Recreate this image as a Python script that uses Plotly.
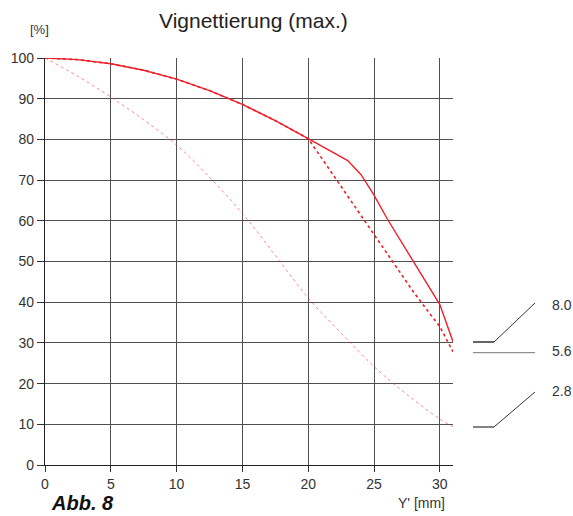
import plotly.graph_objects as go

# ---- data ----
x_80 = [0, 2.5, 5, 7.5, 10, 12.5, 15, 17.5, 20, 21.5, 23, 24, 25, 26, 27, 28, 29, 30, 31]
y_80 = [100, 99.6, 98.6, 97.0, 94.8, 92.0, 88.6, 84.6, 80.2, 77.5, 74.8, 71.4, 66.3, 60.5, 55.2, 50.0, 44.7, 39.4, 30.3]

x_56 = [0, 2.5, 5, 7.5, 10, 12.5, 15, 17.5, 20, 21, 22, 23, 24, 25, 26, 27, 28, 29, 30, 31]
y_56 = [100, 99.6, 98.6, 97.0, 94.8, 92.0, 88.6, 84.6, 80.2, 75.5, 70.8, 66.1, 61.2, 56.5, 51.7, 47.1, 42.5, 38.2, 34.0, 27.8]

x_28 = [0, 2.5, 5, 7.5, 10, 12.5, 15, 17.5, 20, 22.5, 25, 27.5, 30, 31]
y_28 = [100, 95.5, 90.4, 84.8, 78.6, 70.7, 61.8, 51.5, 41.0, 32.4, 24.2, 17.3, 11.3, 9.4]

x_ticks = [0, 5, 10, 15, 20, 25, 30]
y_ticks = [0, 10, 20, 30, 40, 50, 60, 70, 80, 90, 100]
legend_labels = ["8.0", "5.6", "2.8"]

W, H = 573, 516
L, R, T, B = 45, 453, 58, 465

def px(xp):
    return (xp - L) / (R - L)

def py(yp):
    return (B - yp) / (B - T)

FONT = "Liberation Sans, Arial, sans-serif"

fig = go.Figure()
fig.add_trace(go.Scatter(x=x_28, y=y_28, mode="lines", line_shape="spline",
                         line=dict(color="rgba(255,60,60,0.6)", width=1, dash="dot"),
                         hoverinfo="skip", showlegend=False))
fig.add_trace(go.Scatter(x=x_56, y=y_56, mode="lines",
                         line=dict(color="#f0202a", width=1.6, dash="dot"),
                         hoverinfo="skip", showlegend=False))
fig.add_trace(go.Scatter(x=x_80, y=y_80, mode="lines",
                         line=dict(color="#f0202a", width=1.4),
                         hoverinfo="skip", showlegend=False))

shapes = []
lc = "#333333"
# 8.0 legend glyph
shapes.append(dict(type="line", xref="paper", yref="paper", x0=px(473), y0=py(342), x1=px(494), y1=py(342),
                   line=dict(color="#666666", width=2)))
shapes.append(dict(type="line", xref="paper", yref="paper", x0=px(494), y0=py(342), x1=px(535), y1=py(303),
                   line=dict(color=lc, width=1)))
# 5.6
shapes.append(dict(type="line", xref="paper", yref="paper", x0=px(473), y0=py(352.7), x1=px(535), y1=py(352.7),
                   line=dict(color="#777777", width=1)))
# 2.8
shapes.append(dict(type="line", xref="paper", yref="paper", x0=px(473), y0=py(427), x1=px(494), y1=py(427),
                   line=dict(color=lc, width=1.2)))
shapes.append(dict(type="line", xref="paper", yref="paper", x0=px(494), y0=py(427), x1=px(535), y1=py(392),
                   line=dict(color=lc, width=1)))

annotations = []
for lab, yy in zip(legend_labels, [305, 350.5, 391]):
    annotations.append(dict(text=lab, xref="paper", yref="paper", x=px(550), y=py(yy),
                            xanchor="left", yanchor="middle", showarrow=False,
                            font=dict(family=FONT, size=14, color="#333333")))
annotations.append(dict(text="Vignettierung (max.)", xref="paper", yref="paper", x=px(253), y=py(20),
                        xanchor="center", yanchor="middle", showarrow=False,
                        font=dict(family=FONT, size=21, color="#222222")))
annotations.append(dict(text="[%]", xref="paper", yref="paper", x=px(39), y=py(29),
                        xanchor="center", yanchor="middle", showarrow=False,
                        font=dict(family=FONT, size=13, color="#333333")))
annotations.append(dict(text="<b><i>Abb. 8</i></b>", xref="paper", yref="paper", x=px(49), y=py(503),
                        xanchor="left", yanchor="middle", showarrow=False,
                        font=dict(family=FONT, size=20, color="#111111")))
annotations.append(dict(text="Y' [mm]", xref="paper", yref="paper", x=px(447), y=py(503),
                        xanchor="right", yanchor="middle", showarrow=False,
                        font=dict(family=FONT, size=14, color="#333333")))

fig.update_layout(
    width=W, height=H,
    margin=dict(l=L, r=W - R, t=T, b=H - B, pad=0),
    paper_bgcolor="white", plot_bgcolor="white",
    shapes=shapes, annotations=annotations,
    showlegend=False,
    xaxis=dict(range=[0, 31], tickvals=x_ticks, ticktext=[str(v) for v in x_ticks],
               showgrid=True, gridcolor="#505050", gridwidth=1.3,
               zeroline=False, showline=True, linecolor="#222222", linewidth=1.4,
               ticks="outside", ticklen=6, tickcolor="#333333", tickwidth=1,
               tickfont=dict(family=FONT, size=14, color="#333333")),
    yaxis=dict(range=[0, 100], tickvals=y_ticks, ticktext=[str(v) for v in y_ticks],
               showgrid=True, gridcolor="#505050", gridwidth=1.3,
               zeroline=False, showline=True, linecolor="#222222", linewidth=1.4,
               ticks="outside", ticklen=7, tickcolor="#333333", tickwidth=1,
               tickfont=dict(family=FONT, size=14, color="#333333")),
)

fig.write_html("out.html")
